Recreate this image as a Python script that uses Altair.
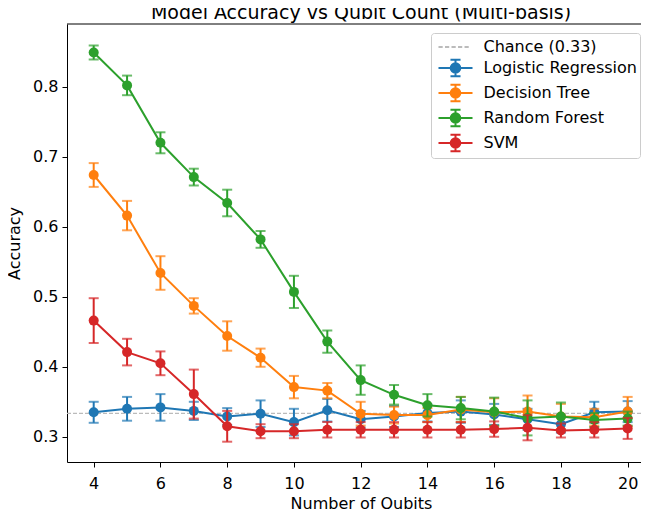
import altair as alt
import pandas as pd

qubits = list(range(4, 21))

models = ["Logistic Regression", "Decision Tree", "Random Forest", "SVM"]
chance_label = "Chance (0.33)"
chance_value = 1 / 3

lr_mean = [0.335, 0.340, 0.342, 0.337, 0.329, 0.333, 0.321, 0.338, 0.325, 0.329, 0.334, 0.336, 0.332, 0.325, 0.318, 0.335, 0.336]
lr_err = [0.015, 0.017, 0.019, 0.013, 0.012, 0.019, 0.019, 0.016, 0.012, 0.015, 0.012, 0.016, 0.015, 0.015, 0.012, 0.015, 0.015]

dt_mean = [0.674, 0.616, 0.534, 0.487, 0.444, 0.413, 0.371, 0.366, 0.333, 0.331, 0.331, 0.339, 0.335, 0.336, 0.329, 0.328, 0.336]
dt_err = [0.017, 0.021, 0.024, 0.011, 0.021, 0.013, 0.016, 0.011, 0.017, 0.012, 0.010, 0.018, 0.020, 0.023, 0.018, 0.012, 0.021]

rf_mean = [0.849, 0.802, 0.720, 0.671, 0.634, 0.582, 0.507, 0.436, 0.381, 0.360, 0.345, 0.341, 0.336, 0.327, 0.329, 0.324, 0.326]
rf_err = [0.010, 0.014, 0.015, 0.012, 0.019, 0.012, 0.023, 0.016, 0.021, 0.014, 0.016, 0.016, 0.020, 0.025, 0.020, 0.010, 0.010]

svm_mean = [0.466, 0.421, 0.405, 0.361, 0.315, 0.308, 0.308, 0.310, 0.310, 0.310, 0.310, 0.310, 0.311, 0.313, 0.309, 0.310, 0.312]
svm_err = [0.032, 0.019, 0.017, 0.035, 0.022, 0.010, 0.010, 0.011, 0.011, 0.011, 0.011, 0.011, 0.011, 0.018, 0.010, 0.011, 0.015]

colors = ["#1f77b4", "#ff7f0e", "#2ca02c", "#d62728"]
chance_color = "#bbbbbb"

y_ticks = [0.3, 0.4, 0.5, 0.6, 0.7, 0.8]
x_ticks = [4, 6, 8, 10, 12, 14, 16, 18, 20]

rows = []
for name, means, errs in zip(models, [lr_mean, dt_mean, rf_mean, svm_mean],
                             [lr_err, dt_err, rf_err, svm_err]):
    for q, m, e in zip(qubits, means, errs):
        rows.append({"qubits": q, "model": name, "acc": m, "lo": m - e, "hi": m + e})
df = pd.DataFrame(rows)

W, H = 574, 438

# legend symbols (SVG paths in symbol units; unit = sqrt(symbolSize)/2 px)
errsym = ("M-0.62,0L2.62,0 M1,-0.79L1,0.79 M0.52,-0.79L1.48,-0.79 M0.52,0.79L1.48,0.79 "
          "M1.46,0A0.46,0.46 0 1,1 0.54,0A0.46,0.46 0 1,1 1.46,0Z")
dashsym = ("M-0.62,0L-0.22,0 M0.0,0L0.4,0 M0.62,0L1.02,0 M1.24,0L1.64,0 M1.86,0L2.26,0")

leg_domain = [chance_label] + models
leg_colors = [chance_color] + colors
leg_shapes = [dashsym] + [errsym] * 4

x_enc = alt.X("qubits:Q",
              scale=alt.Scale(domain=[3.2, 20.4], nice=False, zero=False),
              axis=alt.Axis(values=x_ticks, title="Number of Qubits", titleX=W / 2 + 7))
y_enc = alt.Y("acc:Q",
              scale=alt.Scale(domain=[0.264, 0.8897], nice=False, zero=False),
              axis=alt.Axis(values=y_ticks, format=".1f", title="Accuracy"))

color_enc = alt.Color("model:N", scale=alt.Scale(domain=models, range=colors), legend=None)

legend = alt.Legend(
    orient="none", legendX=364, legendY=9, title=None,
    labelFontSize=16, labelColor="black", labelFont="DejaVu Sans",
    symbolSize=441, symbolStrokeWidth=2, symbolOpacity=1,
    strokeColor="#cccccc", fillColor="white", cornerRadius=3,
    padding=2.5, rowPadding=0, labelOffset=27,
)

chance = alt.Chart(pd.DataFrame({"acc": [chance_value]})).mark_rule(
    color=chance_color, strokeDash=[4, 2], strokeWidth=1.3
).encode(y=alt.Y("acc:Q"))

layers = [chance]
for name in models:
    base = alt.Chart(df).transform_filter(alt.datum.model == name)
    bars = base.mark_rule(strokeWidth=2).encode(x=x_enc, y=alt.Y("lo:Q"), y2="hi:Q", color=color_enc)
    cap_lo = base.mark_tick(orient="horizontal", size=10, thickness=2).encode(
        x=x_enc, y=alt.Y("lo:Q"), color=color_enc)
    cap_hi = base.mark_tick(orient="horizontal", size=10, thickness=2).encode(
        x=x_enc, y=alt.Y("hi:Q"), color=color_enc)
    line = base.mark_line(strokeWidth=2).encode(x=x_enc, y=y_enc, color=color_enc)
    pts = base.mark_circle(size=100, opacity=1).encode(x=x_enc, y=y_enc, color=color_enc)
    layers += [bars, cap_lo, cap_hi, line, pts]

# legend-only layer: draws nothing, its legend lists the explicit domain
legend_layer = alt.Chart(df).transform_filter("false").mark_point(filled=True, opacity=1).encode(
    x=x_enc, y=y_enc,
    fill=alt.Fill("model:N", scale=alt.Scale(domain=leg_domain, range=leg_colors), legend=legend),
    stroke=alt.Stroke("model:N", scale=alt.Scale(domain=leg_domain, range=leg_colors), legend=legend),
    shape=alt.Shape("model:N", scale=alt.Scale(domain=leg_domain, range=leg_shapes), legend=legend),
)

top_spine = alt.Chart(pd.DataFrame({"a": [0]})).mark_rule(color="black", strokeWidth=1).encode(
    x=alt.value(0), x2=alt.value(W), y=alt.value(0))

chart = alt.layer(*layers, top_spine, legend_layer).properties(
    width=W, height=H,
    title=alt.TitleParams("Model Accuracy vs Qubit Count (Multi-basis)", fontSize=19,
                          fontWeight="normal", font="DejaVu Sans", color="black",
                          anchor="middle", dx=7, offset=0.5),
    autosize=alt.AutoSizeParams(type="none"),
    padding={"left": 59, "top": 16, "right": 0, "bottom": 47},
).configure_view(stroke=None).configure_axis(
    grid=False, domainColor="black", domainWidth=1, tickColor="black", tickSize=5, tickWidth=1,
    labelFontSize=16, labelFont="DejaVu Sans", labelColor="black", labelPadding=4,
    titleFontSize=16, titleFont="DejaVu Sans", titleColor="black", titleFontWeight="normal",
).configure_axisY(titlePadding=10).configure_axisX(titlePadding=4, labelPadding=8)

chart.save("out.html", embed_options={"renderer": "svg", "actions": False})
